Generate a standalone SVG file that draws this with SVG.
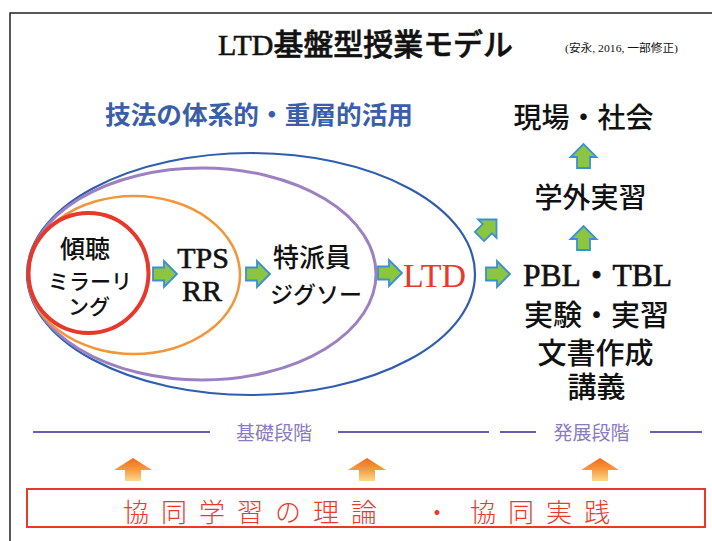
<svg xmlns="http://www.w3.org/2000/svg" width="712" height="541" viewBox="0 0 712 541">
  <style>
    .mj { font-family: "Liberation Serif", "Noto Sans CJK JP", serif; font-weight: 500; fill: #111; }
    .lat { stroke: #111; stroke-width: 0.6; }
    .cite { font-weight: 400; }
    .ga { fill: #8cc63f; stroke: #3a8fd8; stroke-width: 1.8; stroke-linejoin: miter; }
    .oa { fill: url(#og); }
    .stage { stroke: #6a5db0; stroke-width: 2; }
    .stlab { font-family: "Liberation Serif", "Noto Sans CJK JP", serif; font-size: 19px; fill: #8a7cc4; }
    .ell { fill: none; }
  </style>
  <defs>
    <linearGradient id="gold" x1="0" y1="0" x2="1" y2="0">
      <stop offset="0" stop-color="#f3da8c"/>
      <stop offset="0.75" stop-color="#f6e3a6"/>
      <stop offset="1" stop-color="#ffffff"/>
    </linearGradient>
    <linearGradient id="og" x1="0" y1="0" x2="0" y2="1">
      <stop offset="0" stop-color="#f26a1b"/>
      <stop offset="0.5" stop-color="#f79a3e"/>
      <stop offset="1" stop-color="#fbd98a"/>
    </linearGradient>
    <path id="ga" d="M-12,-6.5 H-1 V-13 L12,0 L-1,13 V6.5 H-12 Z"/>
  </defs>

  <rect width="712" height="541" fill="#ffffff"/>
  <!-- frame -->
  <path d="M10,541 V13 H712" fill="none" stroke="#222" stroke-width="1.5"/>

  <!-- title -->
  <g id="title">
    <text class="mj lat" x="218" y="55" font-size="30" textLength="295" lengthAdjust="spacingAndGlyphs">LTD基盤型授業モデル</text>
    <text class="mj cite" x="565" y="52" font-size="11" textLength="113" lengthAdjust="spacingAndGlyphs">(安永, 2016, 一部修正)</text>
    <line x1="45" y1="72.5" x2="708" y2="72.5" stroke="url(#gold)" stroke-width="2"/>
  </g>

  <g id="heading">
    <text x="105" y="123.5" font-size="25" font-family="Liberation Serif, Noto Sans CJK JP, serif" font-weight="700" fill="#3a5ea8" textLength="308" lengthAdjust="spacingAndGlyphs">技法の体系的・重層的活用</text>
  </g>

  <!-- nested ellipses -->
  <g id="ellipse-ltd-scope">
    <ellipse class="ell" cx="251" cy="274" rx="224" ry="121" stroke="#2f5db0" stroke-width="2.2"/>
  </g>
  <g id="ellipse-tokuhain">
    <ellipse class="ell" cx="202" cy="274" rx="174" ry="106" stroke="#9c80c2" stroke-width="3"/>
  </g>
  <g id="ellipse-tps">
    <ellipse class="ell" cx="134" cy="275" rx="106" ry="79" stroke="#f3953a" stroke-width="2.5"/>
  </g>
  <g id="circle-keicho">
    <ellipse class="ell" cx="88.5" cy="273" rx="60" ry="60" stroke="#e8372b" stroke-width="4"/>
    <text class="mj" x="85" y="257.5" font-size="25" text-anchor="middle">傾聴</text>
    <text class="mj" x="90" y="289" font-size="21" text-anchor="middle">ミラーリ</text>
    <text class="mj" x="89" y="314" font-size="21" text-anchor="middle">ング</text>
  </g>

  <g id="node-tps">
    <text class="mj lat" x="203" y="268" font-size="30" text-anchor="middle">TPS</text>
    <text class="mj lat" x="202" y="301" font-size="30" text-anchor="middle">RR</text>
  </g>
  <g id="node-tokuhain">
    <text class="mj" x="312" y="267" font-size="26" text-anchor="middle">特派員</text>
    <text class="mj" x="316" y="303" font-size="23" text-anchor="middle">ジグソー</text>
  </g>
  <g id="node-ltd">
    <text x="403" y="287" font-size="34" font-family="Liberation Serif, serif" fill="#e8392b">LTD</text>
  </g>

  <g id="node-pbl">
    <text class="mj lat" x="523" y="286" font-size="31" textLength="149" lengthAdjust="spacingAndGlyphs">PBL・TBL</text>
    <text class="mj" x="596.5" y="326" font-size="29" text-anchor="middle">実験・実習</text>
    <text class="mj" x="595.5" y="364" font-size="29" text-anchor="middle">文書作成</text>
    <text class="mj" x="596.5" y="398" font-size="29" text-anchor="middle">講義</text>
  </g>
  <g id="node-gakugai">
    <text class="mj" x="590.5" y="208" font-size="28" text-anchor="middle">学外実習</text>
  </g>
  <g id="node-genba">
    <text class="mj" x="583.5" y="128" font-size="28" text-anchor="middle">現場・社会</text>
  </g>

  <!-- connectors -->
  <g id="connectors">
    <use href="#ga" class="ga" transform="translate(165,274)"/>
    <use href="#ga" class="ga" transform="translate(258,274)"/>
    <use href="#ga" class="ga" transform="translate(390,273)"/>
    <use href="#ga" class="ga" transform="translate(498,274)"/>
    <use href="#ga" class="ga" transform="translate(488,228) rotate(-45)"/>
    <use href="#ga" class="ga" transform="translate(583.5,238) rotate(-90)"/>
    <use href="#ga" class="ga" transform="translate(583.5,156) rotate(-90)"/>
    <path class="oa" d="M114,470 L133,458 L152,470 H141 V481 H125 V470 Z"/>
    <path class="oa" d="M348,470 L367,458 L386,470 H375 V481 H359 V470 Z"/>
    <path class="oa" d="M581,470 L600,458 L619,470 H608 V481 H592 V470 Z"/>
  </g>

  <!-- stages -->
  <g id="stages">
    <line class="stage" x1="33" y1="432" x2="210" y2="432"/>
    <line class="stage" x1="338" y1="432" x2="489" y2="432"/>
    <line class="stage" x1="500" y1="432" x2="536" y2="432"/>
    <line class="stage" x1="650" y1="432" x2="702" y2="432"/>
    <text class="stlab" x="274" y="440" text-anchor="middle">基礎段階</text>
    <text class="stlab" x="591.5" y="440" text-anchor="middle">発展段階</text>
  </g>

  <!-- foundation box -->
  <g id="foundation">
    <rect x="27" y="489" width="678" height="38" fill="none" stroke="#e8392b" stroke-width="2"/>
    <g font-family="Noto Sans CJK JP, sans-serif" font-size="26" font-weight="300" fill="#e8392b">
      <text x="123" y="522" letter-spacing="12">協同学習の理論</text>
      <text x="437" y="522" text-anchor="middle">・</text>
      <text x="470" y="522" letter-spacing="12">協同実践</text>
    </g>
  </g>
</svg>
